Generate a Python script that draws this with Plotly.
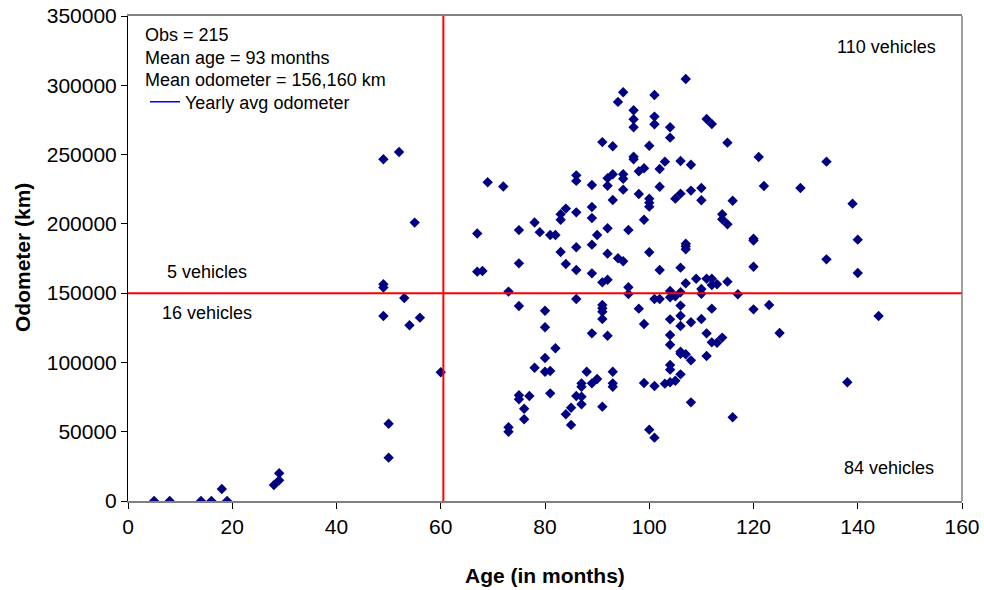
import plotly.graph_objects as go

# ---- data ----
age = [
    5, 8, 14, 16, 19, 18, 28, 29, 29,
    49, 52, 49, 49, 49, 53, 54, 56, 55, 50, 50, 60,
    95, 94, 91, 93, 69, 72, 86, 86, 89, 92, 92, 93, 95, 95, 95, 93, 84, 83, 83, 86,
    89, 89, 78, 75, 67, 79, 81, 82, 90, 92, 96, 89, 83, 86, 92, 94, 95, 75, 84, 67,
    68, 86,
    107, 101, 97, 97, 97, 101, 101, 104, 104, 111, 112, 115, 100, 97, 97, 121, 103,
    106, 108, 98, 99, 102, 122, 102, 110, 108, 106, 105, 98, 100, 100, 100, 110, 116,
    99, 114, 114, 115, 120, 120, 107, 107, 107, 100,
    134, 139, 140, 129, 134, 140,
    120, 102, 106, 96, 107, 109, 111, 112, 112, 113, 115, 110, 104, 106, 89, 91, 92, 73,
    96, 110, 117, 104, 105, 101, 102, 98, 106, 112, 120, 123, 125, 99, 104, 106, 106,
    108, 110, 111, 112, 113, 114, 104, 104, 106, 106, 107, 108, 111, 104, 104, 106, 105,
    103, 104, 99, 101, 108, 116, 100, 101, 144, 138,
    75, 86, 80, 80, 91, 91, 91, 91, 89, 92, 82, 80, 78, 80, 81, 88, 93, 90, 89, 87, 87,
    93, 93, 75, 75, 77, 81, 86, 87, 87, 85, 84, 91, 76, 76, 85, 73, 73,
]
odometer = [
    0, 0, 0, 0, 0, 8700, 11500, 14900, 20000,
    246600, 251900, 156400, 154000, 133500, 146500, 126800, 132300, 200900, 55800, 31300, 92900,
    295000, 288000, 259000, 256000, 230000, 227000, 235000, 231000, 228000, 233000, 227500,
    235800, 235800, 232600, 224700, 217200, 211000, 207000, 203000, 208300,
    212200, 204200, 201000, 195500, 193000, 194000, 192000, 192000, 192000, 196800, 195600,
    185000, 179700, 183100, 178500, 175200, 173000, 171500, 171000, 165500,
    166000, 166700,
    304500, 293000, 282000, 275500, 269700, 277400, 271900, 269700, 262200, 275700, 272100,
    258600, 256400, 248500, 246600, 248300, 244900,
    245400, 242700, 238000, 240100, 239600, 227300, 226800, 225900, 224000, 221800, 218200,
    221600, 218200, 215300, 212400, 217000, 216700,
    203000, 206900, 203300, 199700, 189300, 187900, 185700, 183800, 181600, 179500,
    244900, 214600, 188600, 225900, 174400, 164500,
    169100, 166700, 168400, 154200, 157100, 160400, 160400, 160400, 155900, 156400, 158300,
    153000, 151600, 150600, 164300, 157800, 159700, 151100,
    149400, 149600, 149200, 147000, 147700, 145800, 145800, 138800, 141000, 138800, 138300,
    141400, 121200, 127700, 131100, 133700, 126300,
    129000, 131300, 121000, 114500, 114200, 117900, 119800, 112800, 107700, 106300, 105900,
    101500, 104600, 98200, 94800, 91400, 86800,
    84700, 85700, 85200, 83000, 71200, 60400, 51500, 45700, 133500, 85700,
    140700, 145800, 137300, 125400, 141500, 139100, 136600, 131300, 121000, 119300, 110200,
    103200, 96200, 93300, 93800, 93300, 93300, 88000, 84900, 84900, 82500,
    84900, 82500, 76300, 73400, 75800, 77700, 75800, 75300, 69800, 67300, 62600, 68100,
    66600, 59000, 54900, 53200, 50000,
]

age_cutoff = 60.5
odo_cutoff = 150000

info_lines = ["Obs = 215", "Mean age = 93 months", "Mean odometer = 156,160 km"]
quadrant_labels = ["110 vehicles", "5 vehicles", "16 vehicles", "84 vehicles"]
quadrant_x = [145.6, 15.2, 15.2, 146.0]
quadrant_y = [327600, 165300, 135700, 23800]

x_ticks = [0, 20, 40, 60, 80, 100, 120, 140, 160]
y_ticks = [0, 50000, 100000, 150000, 200000, 250000, 300000, 350000]

FONT = "Liberation Sans, Arial, sans-serif"
W, H = 984, 590
L, R, T, B = 128, 22, 16, 89
PW, PH = W - L - R, H - T - B


def px(xp):
    return (xp - L) / PW


def py(yp):
    return (H - B - yp) / PH


fig = go.Figure()
fig.add_trace(go.Scatter(
    x=age, y=odometer, mode="markers",
    marker=dict(symbol="diamond", size=8, color="#000080", line=dict(width=0)),
    showlegend=False, hoverinfo="x+y",
))
fig.add_trace(go.Scatter(
    x=[None], y=[None], mode="lines",
    line=dict(color="#0000FF", width=1.5),
    name="Yearly avg odometer", showlegend=True,
))

# cutoff lines
fig.add_shape(type="line", x0=age_cutoff, x1=age_cutoff, y0=0, y1=350000,
              xref="x", yref="y", line=dict(color="#FF0000", width=2))
fig.add_shape(type="line", x0=0, x1=160, y0=odo_cutoff, y1=odo_cutoff,
              xref="x", yref="y", line=dict(color="#FF0000", width=2))
# right border
fig.add_shape(type="line", x0=1, x1=1, y0=0, y1=1, xref="paper", yref="paper",
              line=dict(color="#808080", width=1.5))

# info text
for i, t in enumerate(info_lines):
    fig.add_annotation(x=px(143), y=py(35 + 22.5 * i), xref="paper", yref="paper",
                       text=t, showarrow=False, xanchor="left", yanchor="middle",
                       font=dict(family=FONT, size=18, color="#000000"))
for t, xv, yv in zip(quadrant_labels, quadrant_x, quadrant_y):
    fig.add_annotation(x=xv, y=yv, xref="x", yref="y", text=t, showarrow=False,
                       xanchor="center", yanchor="middle",
                       font=dict(family=FONT, size=18, color="#000000"))

# axis titles
fig.add_annotation(x=px(545), y=py(575), xref="paper", yref="paper",
                   text="<b>Age (in months)</b>", showarrow=False,
                   xanchor="center", yanchor="middle",
                   font=dict(family=FONT, size=21, color="#000000"))
fig.add_annotation(x=px(22), y=py(258), xref="paper", yref="paper",
                   text="<b>Odometer (km)</b>", showarrow=False, textangle=-90,
                   xanchor="center", yanchor="middle",
                   font=dict(family=FONT, size=21, color="#000000"))

fig.update_layout(
    width=W, height=H,
    margin=dict(l=L, r=R, t=T, b=B, autoexpand=False),
    paper_bgcolor="white", plot_bgcolor="white",
    font=dict(family=FONT, color="#000000"),
    legend=dict(x=px(155) - 0.012, y=py(102), xanchor="left", yanchor="middle",
                bgcolor="rgba(0,0,0,0)", font=dict(family=FONT, size=18),
                itemwidth=30, tracegroupgap=0),
    xaxis=dict(range=[0, 160], tickvals=x_ticks, ticks="outside", ticklen=6,
               tickcolor="#000000", showgrid=False, zeroline=False, automargin=False,
               showline=True, linecolor="#808080", linewidth=1.5, mirror=True,
               tickfont=dict(family=FONT, size=21)),
    yaxis=dict(range=[0, 350000], tickvals=y_ticks, ticks="outside", ticklen=6,
               tickcolor="#000000", showgrid=False, zeroline=False, automargin=False,
               showline=True, linecolor="#000000", linewidth=1,
               tickfont=dict(family=FONT, size=21), tickformat="d"),
)

fig.write_html("out.html")
